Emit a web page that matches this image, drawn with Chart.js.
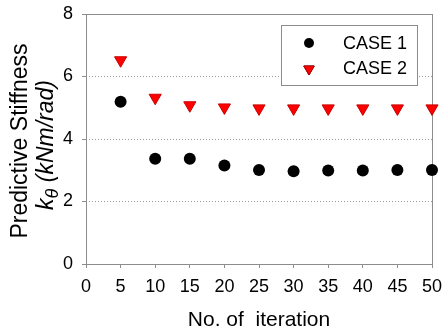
<!DOCTYPE html>
<html>
<head>
<meta charset="utf-8">
<script src="https://cdn.jsdelivr.net/npm/chart.js@4/dist/chart.umd.min.js"></script>
<style>
  html, body { margin: 0; padding: 0; background: #fff; }
  #wrap { width: 443px; height: 333px; }
</style>
</head>
<body>
<div id="wrap"><canvas id="chart" width="443" height="333"></canvas></div>
<script>
const iterations = [5, 10, 15, 20, 25, 30, 35, 40, 45, 50];
const case1 = [5.19, 3.37, 3.37, 3.15, 3.01, 2.97, 2.99, 2.99, 3.01, 3.01];
const case2 = [6.52, 5.32, 5.08, 5.01, 4.98, 4.98, 4.98, 4.98, 4.98, 4.98];
const seriesLabels = ["CASE 1", "CASE 2"];

const FONT = "'Liberation Sans', Arial, sans-serif";
const AXIS_GREY = "#8c8c8c";

// frame around the plot (top and right edges are part of it)
const framePlugin = {
  id: "frame",
  beforeDatasetsDraw(chart) {
    const { ctx, chartArea: a } = chart;
    ctx.save();
    ctx.strokeStyle = AXIS_GREY;
    ctx.lineWidth = 1;
    ctx.strokeRect(Math.round(a.left) + 0.5, Math.round(a.top) + 0.5,
      Math.round(a.right - a.left), Math.round(a.bottom - a.top));
    ctx.restore();
  }
};

// two-line rotated y title with subscript theta
const yTitlePlugin = {
  id: "yTitle",
  afterDraw(chart) {
    const { ctx, chartArea: a } = chart;
    const cy = (a.top + a.bottom) / 2;
    ctx.save();
    ctx.fillStyle = "#000";
    ctx.textBaseline = "alphabetic";
    // line 1
    ctx.translate(27, cy + 2);
    ctx.rotate(-Math.PI / 2);
    ctx.font = "23px " + FONT;
    ctx.textAlign = "center";
    ctx.fillText("Predictive Stiffness", 0, 0);
    ctx.restore();

    // line 2
    ctx.save();
    ctx.fillStyle = "#000";
    ctx.textBaseline = "alphabetic";
    ctx.translate(53, cy + 6);
    ctx.rotate(-Math.PI / 2);
    const big = "italic 23px " + FONT;
    const small = "italic 18px " + FONT;
    ctx.font = big;
    const wk = ctx.measureText("k").width;
    const wr = ctx.measureText(" (kNm/rad)").width;
    ctx.font = small;
    const wt = ctx.measureText("\u03b8").width;
    let x = -(wk + wt + wr) / 2;
    ctx.textAlign = "left";
    ctx.font = big;
    ctx.fillText("k", x, 0);
    x += wk;
    ctx.font = small;
    ctx.fillText("\u03b8", x, 5);
    x += wt;
    ctx.font = big;
    ctx.fillText(" (kNm/rad)", x, 0);
    ctx.restore();
  }
};

// boxed legend inside the plot, top right
const legendBoxPlugin = {
  id: "legendBox",
  afterDatasetsDraw(chart) {
    const { ctx } = chart;
    ctx.save();
    ctx.fillStyle = "#fff";
    ctx.fillRect(281, 25, 136, 60);
    ctx.strokeStyle = AXIS_GREY;
    ctx.lineWidth = 1;
    ctx.strokeRect(281.5, 25.5, 136, 60);
    const rows = [43, 69];
    chart.data.datasets.forEach((ds, i) => {
      Chart.helpers.drawPoint(ctx, {
        pointStyle: ds.pointStyle,
        radius: ds.legendRadius,
        rotation: ds.rotation || 0,
        borderWidth: ds.borderWidth
      }, 309, rows[i]);
      ctx.fillStyle = ds.backgroundColor;
      ctx.strokeStyle = ds.borderColor;
      ctx.lineWidth = ds.borderWidth;
      ctx.fill();
      if (ds.borderWidth) ctx.stroke();
      ctx.fillStyle = "#000";
      ctx.font = "18px " + FONT;
      ctx.textAlign = "left";
      ctx.textBaseline = "alphabetic";
      ctx.fillText(ds.label, 343, i === 0 ? 48.5 : 73.5);
    });
    ctx.restore();
  }
};

new Chart(document.getElementById("chart"), {
  type: "scatter",
  data: {
    datasets: [
      {
        label: seriesLabels[0],
        data: iterations.map((x, i) => ({ x, y: case1[i] })),
        pointStyle: "circle",
        pointRadius: 6,
        legendRadius: 5,
        backgroundColor: "#000",
        borderColor: "#000",
        borderWidth: 0,
        clip: false
      },
      {
        label: seriesLabels[1],
        data: iterations.map((x, i) => ({ x, y: case2[i] })),
        pointStyle: "triangle",
        rotation: 180,
        pointRotation: 180,
        pointRadius: 7,
        legendRadius: 6,
        backgroundColor: "#ff0000",
        borderColor: "#c80000",
        borderWidth: 1,
        clip: false
      }
    ]
  },
  options: {
    responsive: false,
    animation: false,
    devicePixelRatio: 1,
    layout: { padding: { top: 14, right: 11, left: 0, bottom: 0 } },
    plugins: {
      legend: { display: false },
      tooltip: { enabled: false }
    },
    scales: {
      x: {
        type: "linear",
        min: 0,
        max: 50,
        ticks: {
          stepSize: 5,
          color: "#000",
          padding: 8,
          font: { family: FONT, size: 18 }
        },
        grid: {
          drawOnChartArea: false,
          tickLength: 4,
          tickColor: AXIS_GREY
        },
        border: { display: false },
        title: {
          display: true,
          text: "No. of  iteration",
          color: "#000",
          font: { family: FONT, size: 21 },
          padding: { top: 6, bottom: 0 }
        },
        afterFit(scale) {
          scale.height = 69;
          scale.paddingLeft = 0;
          scale.paddingRight = 0;
        }
      },
      y: {
        min: 0,
        max: 8,
        ticks: {
          stepSize: 2,
          color: "#000",
          padding: 9,
          font: { family: FONT, size: 18 }
        },
        grid: {
          color: (c) => (c.tick && c.tick.value > 0 && c.tick.value < 8) ? "#9a9a9a" : "rgba(0,0,0,0)",
          tickLength: 4,
          tickColor: AXIS_GREY,
          tickBorderDash: []
        },
        border: { display: false, dash: [1, 2] },
        afterFit(scale) {
          scale.width = 86;
          scale.paddingTop = 0;
          scale.paddingBottom = 0;
        }
      }
    }
  },
  plugins: [framePlugin, yTitlePlugin, legendBoxPlugin]
});
</script>
</body>
</html>
